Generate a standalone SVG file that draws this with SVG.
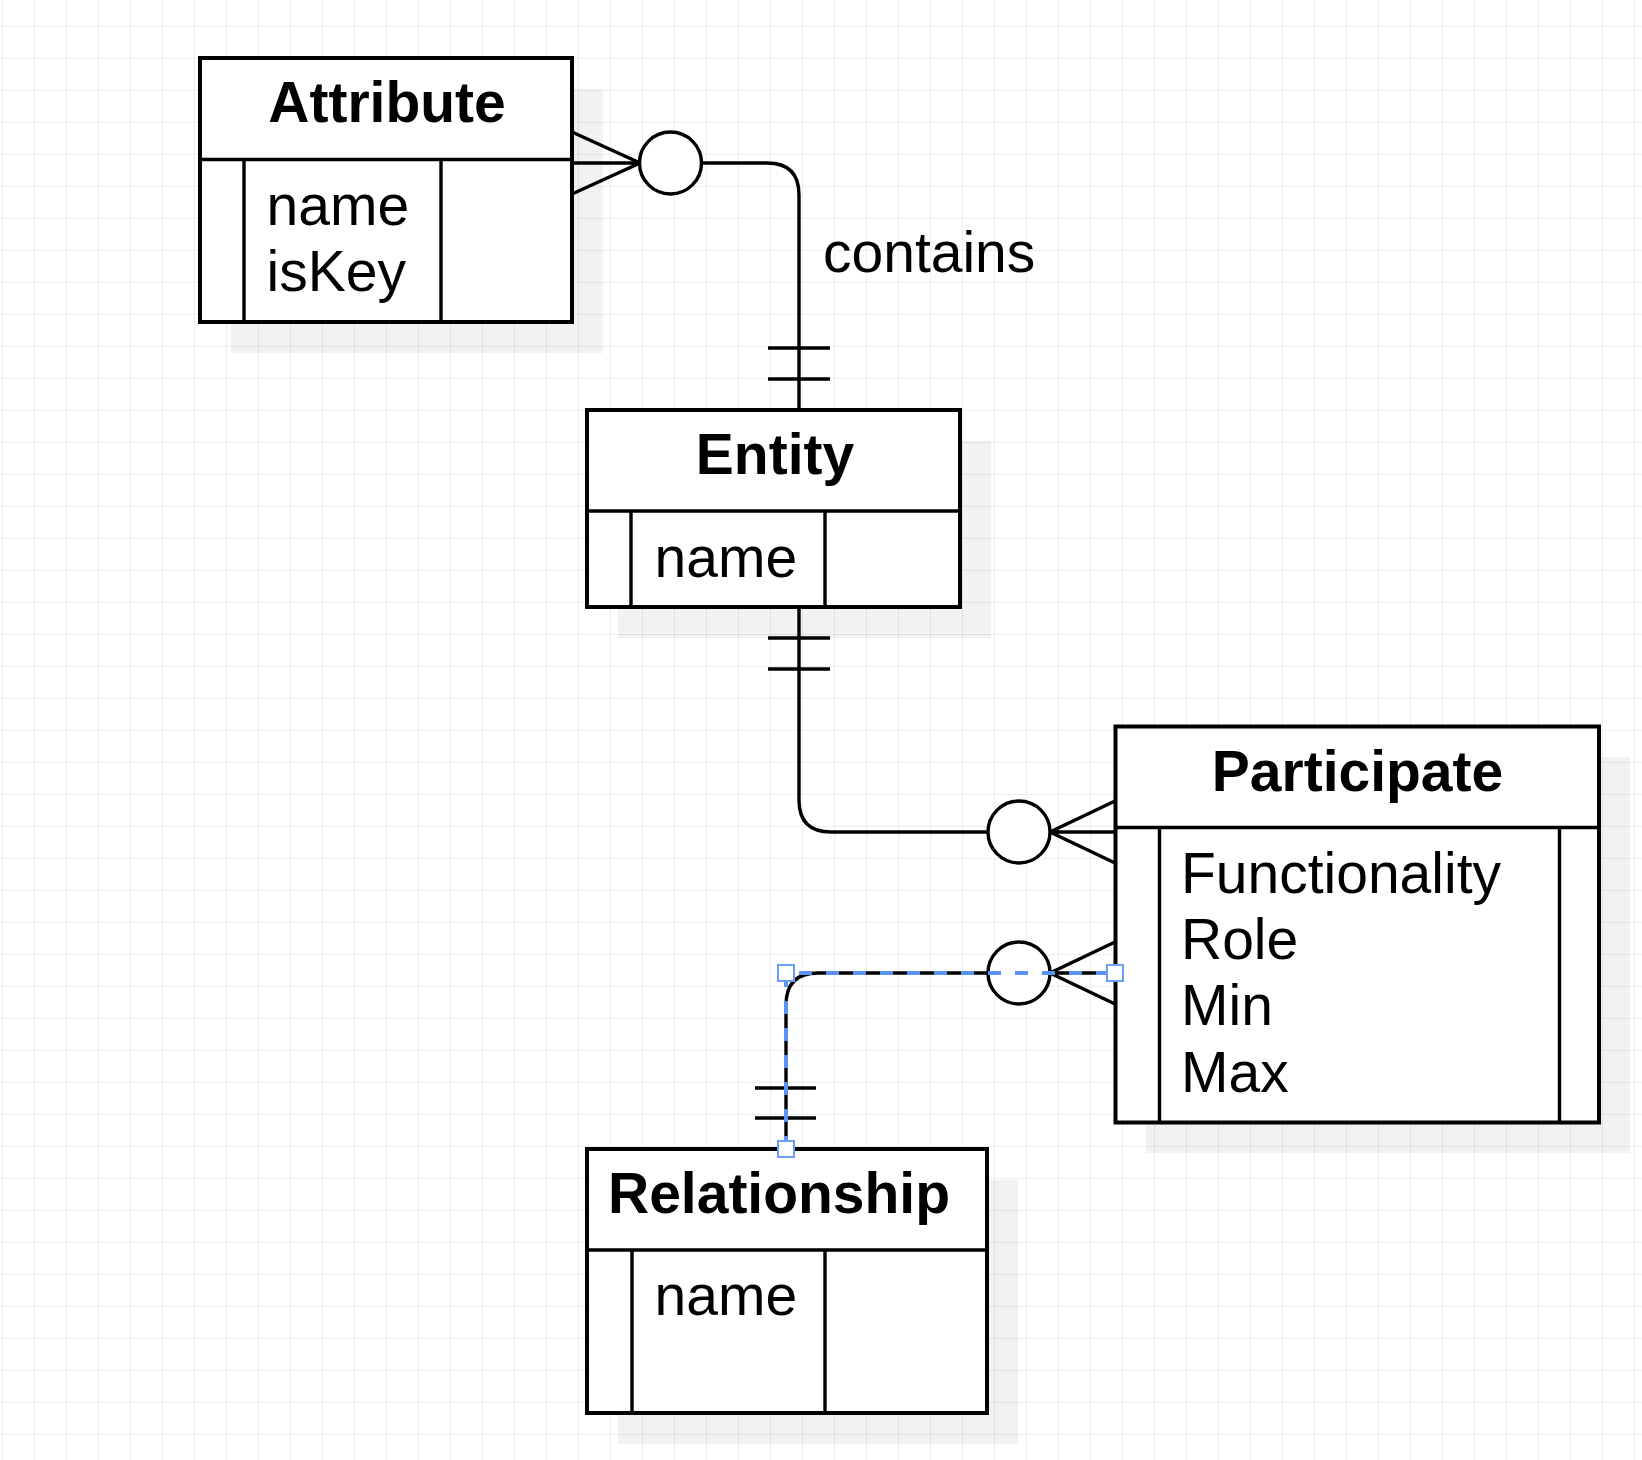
<svg xmlns="http://www.w3.org/2000/svg" width="1642" height="1460" viewBox="0 0 1642 1460">
<style>
.box{fill:#fff;stroke:#000;stroke-width:4}
.ln{fill:none;stroke:#000;stroke-width:3.4}
.sh{fill:#000;fill-opacity:0.05}
.t{font-family:"Liberation Sans",Arial,sans-serif;font-size:57px;fill:#000}
.b{font-weight:bold;text-anchor:middle}
.sel{fill:none;stroke:#5b93f5;stroke-width:4;stroke-dasharray:13 14}
.h{fill:#fff;stroke:#6d9ef5;stroke-width:2}
</style>
<defs>
<pattern id="grid" x="2" y="26" width="32" height="32" patternUnits="userSpaceOnUse">
<path d="M0.5,0 V32 M0,0.5 H32" fill="none" stroke="#eeeeee" stroke-width="1"/>
</pattern>
</defs>
<rect width="1642" height="1460" fill="#fff"/>
<rect width="1642" height="1460" fill="url(#grid)"/>

<g id="attribute">
<rect class="sh" x="231" y="89" width="372" height="264"/>
<rect class="box" x="200" y="58" width="372" height="264"/>
<path class="ln" d="M200,159.5 H572 M244,159.5 V322 M441,159.5 V322"/>
<text class="t b" x="387" y="122">Attribute</text>
<text class="t" x="266.5" y="225">name</text>
<text class="t" x="266.5" y="291">isKey</text>
</g>

<g id="entity">
<rect class="sh" x="618" y="441" width="373" height="197"/>
<rect class="box" x="587" y="410" width="373" height="197"/>
<path class="ln" d="M587,511 H960 M631,511 V607 M825,511 V607"/>
<text class="t b" x="775" y="474">Entity</text>
<text class="t" x="654.5" y="577">name</text>
</g>

<g id="participate">
<rect class="sh" x="1146" y="757" width="484" height="396"/>
<rect class="box" x="1115.5" y="726.5" width="483.5" height="396"/>
<path class="ln" d="M1115.5,827.5 H1599 M1159.5,827.5 V1122.5 M1559.5,827.5 V1122.5"/>
<text class="t b" x="1357.5" y="791">Participate</text>
<text class="t" x="1181" y="893">Functionality</text>
<text class="t" x="1181" y="959">Role</text>
<text class="t" x="1181" y="1025">Min</text>
<text class="t" x="1181" y="1092">Max</text>
</g>

<g id="relationship">
<rect class="sh" x="618" y="1180" width="400" height="264"/>
<rect class="box" x="587" y="1149" width="400" height="264"/>
<path class="ln" d="M587,1250 H987 M632,1250 V1413 M825,1250 V1413"/>
<text class="t b" x="779" y="1213">Relationship</text>
<text class="t" x="654.5" y="1315">name</text>
</g>

<g id="connectors">
<g id="edge-contains">
<path class="ln" d="M799,410 V195 Q799,163 767,163 H701"/>
<path class="ln" d="M572,132 L640,163 L572,194 M572,163 H640"/>
<circle cx="670.5" cy="163" r="31" fill="#fff" stroke="#000" stroke-width="3.4"/>
<path class="ln" d="M768,348 H830 M768,379 H830"/>
<text class="t" x="823" y="272">contains</text>
</g>
<g id="edge-entity-participate">
<path class="ln" d="M799,607 V800 Q799,832 831,832 H988"/>
<path class="ln" d="M1115,801 L1050,832 L1115,863 M1050,832 H1115"/>
<circle cx="1019" cy="832" r="31" fill="#fff" stroke="#000" stroke-width="3.4"/>
<path class="ln" d="M768,638 H830 M768,669 H830"/>
</g>
<g id="edge-relationship-participate">
<path class="ln" d="M786,1149 V1005 Q786,973 818,973 H988"/>
<path class="ln" d="M1115,942 L1050,973 L1115,1004 M1050,973 H1115"/>
<circle cx="1019" cy="973" r="31" fill="#fff" stroke="#000" stroke-width="3.4"/>
<path class="ln" d="M755,1088 H816 M755,1118 H816"/>
<path class="sel" d="M786,1149 V973 H1115"/>
<rect class="h" x="778" y="965" width="16" height="16"/>
<rect class="h" x="1107" y="965" width="16" height="16"/>
<rect class="h" x="778" y="1141" width="16" height="16"/>
</g>
</g>
</svg>
